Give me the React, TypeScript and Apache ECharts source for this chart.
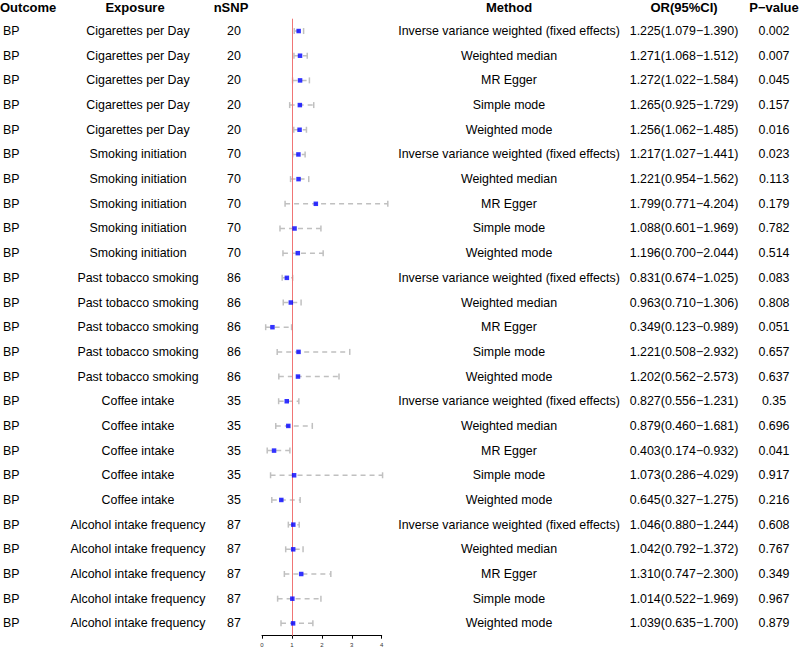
import React, { useEffect, useRef } from "react";
import * as echarts from "echarts";

const outcomeName = "BP";
const exposureNames = [
  "Cigarettes per Day",
  "Smoking initiation",
  "Past tobacco smoking",
  "Coffee intake",
  "Alcohol intake frequency",
];
const nSNPs = [20, 70, 86, 35, 87];
const methodNames = [
  "Inverse variance weighted (fixed effects)",
  "Weighted median",
  "MR Egger",
  "Simple mode",
  "Weighted mode",
];
const orValues = [
  1.225, 1.271, 1.272, 1.265, 1.256,
  1.217, 1.221, 1.799, 1.088, 1.196,
  0.831, 0.963, 0.349, 1.221, 1.202,
  0.827, 0.879, 0.403, 1.073, 0.645,
  1.046, 1.042, 1.31, 1.014, 1.039,
];
const lowerCI = [
  1.079, 1.068, 1.022, 0.925, 1.062,
  1.027, 0.954, 0.771, 0.601, 0.7,
  0.674, 0.71, 0.123, 0.508, 0.562,
  0.556, 0.46, 0.174, 0.286, 0.327,
  0.88, 0.792, 0.747, 0.522, 0.635,
];
const upperCI = [
  1.39, 1.512, 1.584, 1.729, 1.485,
  1.441, 1.562, 4.204, 1.969, 2.044,
  1.025, 1.306, 0.989, 2.932, 2.573,
  1.231, 1.681, 0.932, 4.029, 1.275,
  1.244, 1.372, 2.3, 1.969, 1.7,
];
const pValues = [
  "0.002", "0.007", "0.045", "0.157", "0.016",
  "0.023", "0.113", "0.179", "0.782", "0.514",
  "0.083", "0.808", "0.051", "0.657", "0.637",
  "0.35", "0.696", "0.041", "0.917", "0.216",
  "0.608", "0.767", "0.349", "0.967", "0.879",
];
const xTicks = [0, 1, 2, 3, 4];
const headers = ["Outcome", "Exposure", "nSNP", "Method", "OR(95%CI)", "P\u2212value"];

const FONT = "'Liberation Sans', Arial, Helvetica, sans-serif";

export default function App() {
  const ref = useRef<HTMLDivElement>(null);
  useEffect(() => {
    if (!ref.current) return;
    const chart = echarts.init(ref.current, undefined, { renderer: "svg" });
    const n = orValues.length;
    const rows = Array.from({ length: n }, (_, i) => i);
    const outcomeCol = rows.map(() => outcomeName);
    const exposureCol = rows.map((i) => exposureNames[Math.floor(i / 5)]);
    const nsnpCol = rows.map((i) => String(nSNPs[Math.floor(i / 5)]));
    const methodCol = rows.map((i) => methodNames[i % 5]);
    const orCol = rows.map(
      (i) =>
        `${orValues[i].toFixed(3)}(${lowerCI[i].toFixed(3)}\u2212${upperCI[i].toFixed(3)})`
    );
    const cats = rows.map((i) => String(i));

    const gridLeft = 259;
    const gridWidth = 122.7;
    const gridTop = 18.7;
    const gridHeight = 617;

    const textAxis = (
      data: string[],
      position: "left" | "right",
      align: "left" | "center" | "right",
      margin: number
    ) => ({
      type: "category",
      data,
      inverse: true,
      position,
      offset: 0,
      axisLine: { show: false },
      axisTick: { show: false },
      splitLine: { show: false },
      axisLabel: {
        interval: 0,
        align,
        margin,
        fontSize: 12.4,
        color: "#000",
        fontFamily: FONT,
      },
    });

    const headerX = [0, 135, 231, 509, 684, 774];
    const headerAlign = ["left", "center", "center", "center", "center", "center"];

    chart.setOption({
      animation: false,
      textStyle: { fontFamily: FONT },
      grid: { left: gridLeft, top: gridTop, width: gridWidth, height: gridHeight },
      xAxis: {
        type: "value",
        min: 0,
        max: 4,
        interval: 1,
        axisLine: { show: true, lineStyle: { color: "#000", width: 1 } },
        axisTick: { show: true, length: 3, lineStyle: { color: "#000" } },
        splitLine: { show: false },
        axisLabel: {
          fontSize: 6,
          color: "#333",
          margin: 6,
          formatter: (v: number) => (xTicks.includes(v) ? String(v) : ""),
        },
      },
      yAxis: [
        {
          type: "category",
          data: cats,
          inverse: true,
          show: false,
        },
        textAxis(outcomeCol, "left", "left", gridLeft - 0),
        textAxis(exposureCol, "left", "center", gridLeft - 135),
        textAxis(nsnpCol, "left", "center", gridLeft - 231),
        textAxis(methodCol, "right", "center", 509 - (gridLeft + gridWidth)),
        textAxis(orCol, "right", "center", 684 - (gridLeft + gridWidth)),
        textAxis(pValues, "right", "center", 774 - (gridLeft + gridWidth)),
      ],
      graphic: headers.map((h, i) => ({
        type: "text",
        x: headerX[i],
        y: 7,
        style: {
          text: h,
          fontSize: 13,
          fontWeight: "bold",
          fontFamily: FONT,
          fill: "#000",
          align: headerAlign[i],
          verticalAlign: "middle",
        },
      })),
      series: [
        {
          type: "custom",
          clip: false,
          silent: true,
          data: rows.map((i) => [lowerCI[i], upperCI[i], i]),
          encode: { x: [0, 1], y: 2 },
          renderItem: (params: any, api: any) => {
            const lo = api.value(0);
            const hi = api.value(1);
            const r = api.value(2);
            const p1 = api.coord([lo, r]);
            const p2 = api.coord([hi, r]);
            const cap = 3;
            const style = { stroke: "#c0c0c0", lineWidth: 1.5 };
            return {
              type: "group",
              children: [
                {
                  type: "line",
                  shape: { x1: p1[0], y1: p1[1], x2: p2[0], y2: p2[1] },
                  style: { ...style, lineDash: [5, 4] },
                },
                {
                  type: "line",
                  shape: { x1: p1[0], y1: p1[1] - cap, x2: p1[0], y2: p1[1] + cap },
                  style,
                },
                {
                  type: "line",
                  shape: { x1: p2[0], y1: p2[1] - cap, x2: p2[0], y2: p2[1] + cap },
                  style,
                },
              ],
            };
          },
        },
        {
          type: "scatter",
          symbol: "rect",
          symbolSize: 4.5,
          silent: true,
          itemStyle: { color: "#0000ff" },
          data: rows.map((i) => [orValues[i], i]),
          markLine: {
            silent: true,
            symbol: "none",
            label: { show: false },
            lineStyle: { color: "#f07575", width: 1, type: "solid" },
            data: [{ xAxis: 1 }],
          },
          z: 5,
        },
      ],
    });
    return () => chart.dispose();
  }, []);
  return (
    <div
      ref={ref}
      style={{ position: "fixed", left: 0, top: 0, width: 800, height: 649, background: "#fff" }}
    />
  );
}
